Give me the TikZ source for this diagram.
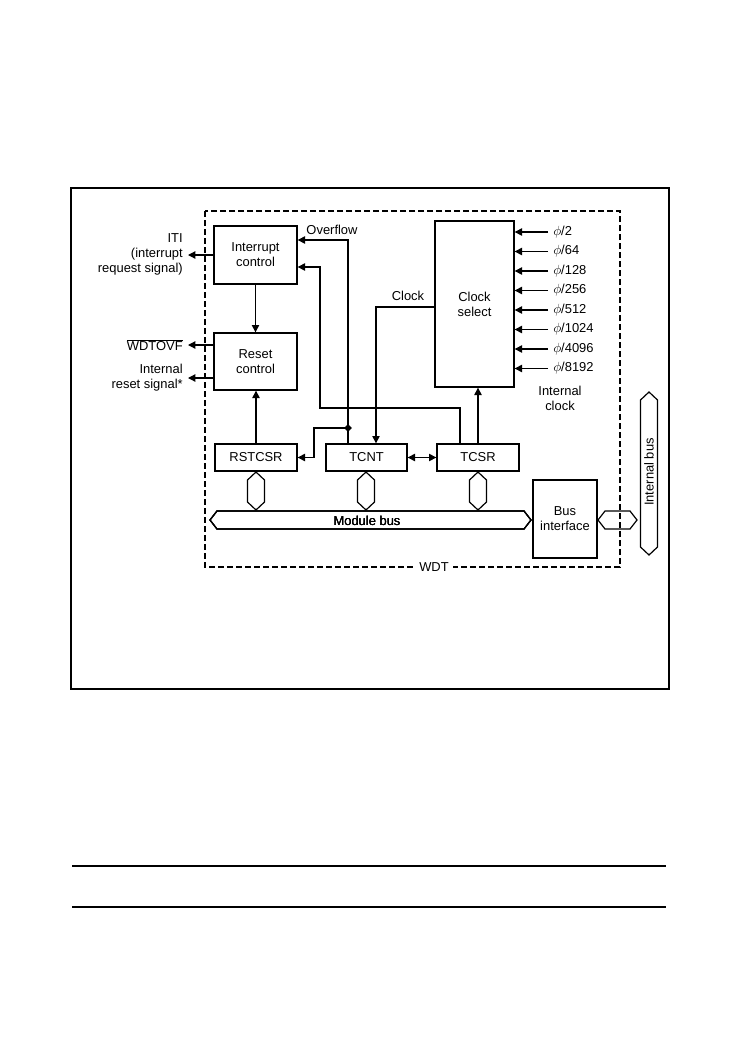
\documentclass[tikz,border=0pt]{standalone}
\usepackage{fontspec}
\setmainfont{Liberation Sans}
\usetikzlibrary{arrows.meta,calc,shapes.geometric}
\tikzset{
  ctrlbox/.style={
    draw,
    line width=1pt,
    minimum width=62.25pt,
    minimum height=43.5pt,
    align=center,
    inner sep=1pt
  },
  regbox/.style={
    draw,
    line width=1pt,
    minimum width=61.5pt,
    minimum height=20.25pt,
    inner sep=1pt
  },
  sigline/.style={-{Triangle[length=5.5pt,width=5.5pt]},line width=0.9pt},
  siglink/.style={{Triangle[length=5.5pt,width=5.5pt]}-{Triangle[length=5.5pt,width=5.5pt]},line width=0.9pt},
  busshape/.style={draw,line width=0.9pt},
  lbl/.style={inner sep=0pt,align=center}
}
\newcommand{\vlink}[3]{\draw[busshape] (#1,#2) -- (#1+8.5,#2+8) -- (#1+8.5,#3-8) -- (#1,#3) -- (#1-8.5,#3-8) -- (#1-8.5,#2+8) -- cycle;}
\newcommand{\hlink}[3]{\draw[busshape] (#1,#3) -- (#1+7,#3-9) -- (#2-7,#3-9) -- (#2,#3) -- (#2-7,#3+9) -- (#1+7,#3+9) -- cycle;}

\begin{document}
\begin{tikzpicture}[x=0.75pt,y=-0.75pt,font=\fontsize{9.7}{11.3}\selectfont]
  \useasboundingbox (0,0) rectangle (749,1064);

  % frame and rules
  \draw[line width=0.8pt] (71,188) rectangle (669,689);
  \draw[line width=1.5pt] (669,188) -- (669,689) -- (71,689);
  \draw[line width=0.8pt] (72,866) -- (666,866);
  \draw[line width=2.2pt] (72,907) -- (666,907);

  % WDT module outline
  \draw[line width=0.9pt,dash pattern=on 4.5pt off 2.25pt] (205,211) rectangle (620,567);
  \node[fill=white,inner sep=3pt] (wdt) at (434,567) {WDT};

  % blocks
  \node[ctrlbox] (intc) at (255.5,255) {Interrupt\\control};
  \node[ctrlbox, minimum height=42.75pt] (rstc) at (255.5,361.5) {Reset\\control};
  \node[ctrlbox, minimum width=59.25pt, minimum height=124.5pt] (clksel) at (474.5,304) {Clock\\select};
  \node[regbox] (rstcsr) at (256,457.5) {RSTCSR};
  \node[regbox, minimum width=60.75pt] (tcnt) at (366.5,457.5) {TCNT};
  \node[regbox] (tcsr) at (478,457.5) {TCSR};
  \node[ctrlbox, minimum width=48pt, minimum height=58.5pt] (busif) at (565,519) {Bus\\interface};

  % outputs
  \coordinate (itiout) at (188,255);
  \coordinate (ovfout) at (188,345);
  \coordinate (rstout) at (188,378);
  \draw[sigline] (intc.west) -- (itiout);
  \draw[sigline] (rstc.west |- ovfout) -- (ovfout);
  \draw[sigline] (rstc.west |- rstout) -- (rstout);
  \node[lbl, anchor=east, align=right] (itilbl) at (183,254) {ITI\\(interrupt\\request signal)};
  \node[lbl, anchor=east] (ovflbl) at (183,345) {$\overline{\mbox{WDTOVF}}$};
  \node[lbl, anchor=east, align=right] (rstlbl) at (183,378) {Internal\\reset signal*};

  % internal signals
  \draw[sigline] (intc.south) -- (rstc.north);
  \draw[sigline] (rstcsr.north) -- (rstcsr.north |- rstc.south);

  \node[diamond, fill, inner sep=0pt, minimum size=6pt] (ovf) at (348,428) {};
  \coordinate (ovftop) at (348,240);
  \coordinate (rbend) at (314,428);
  \draw[sigline] (ovf.center |- tcnt.north) -- (ovftop) -- (ovftop -| intc.east);
  \draw[sigline] (ovf.center) -- (rbend) |- (rstcsr.east);
  \node[lbl] (ovfl) at (332,230) {Overflow};

  \coordinate (tsbend) at (460,408);
  \coordinate (irq) at (320,267);
  \draw[sigline] (tsbend |- tcsr.north) -- (tsbend) -| (irq) -- (irq -| intc.east);

  \coordinate (clk) at (376,307);
  \draw[sigline] (clk -| clksel.west) -- (clk) -- (clk |- tcnt.north);
  \node[lbl] (clkl) at (408,296) {Clock};

  \draw[sigline] (tcsr.north) -- (tcsr.north |- clksel.south);
  \draw[siglink] (tcnt.east) -- (tcsr.west);

  % clock inputs
  \foreach \k/\dv in {0/2,1/64,2/128,3/256,4/512,5/1024,6/4096,7/8192} {
    \coordinate (ph\k) at (548,{232+19.5*\k});
    \draw[sigline] (ph\k) -- (ph\k -| clksel.east);
    \node[lbl, anchor=west] (phl\k) at (553,{232+19.5*\k}) {$\phi$/\dv};
  }
  \node[lbl] (intclk) at (560,398) {Internal\\clock};

  % buses
  \foreach \x in {256,366,478}
    \vlink{\x}{472}{510}
  \hlink{210}{531}{520}
  \node[lbl] (modbus) at (367,521) {Module bus};
  \hlink{598}{637}{520}
  \vlink{649}{392}{555}
  \node[lbl, rotate=90] (intbus) at (649,472) {Internal bus};
\end{tikzpicture}
\end{document}
